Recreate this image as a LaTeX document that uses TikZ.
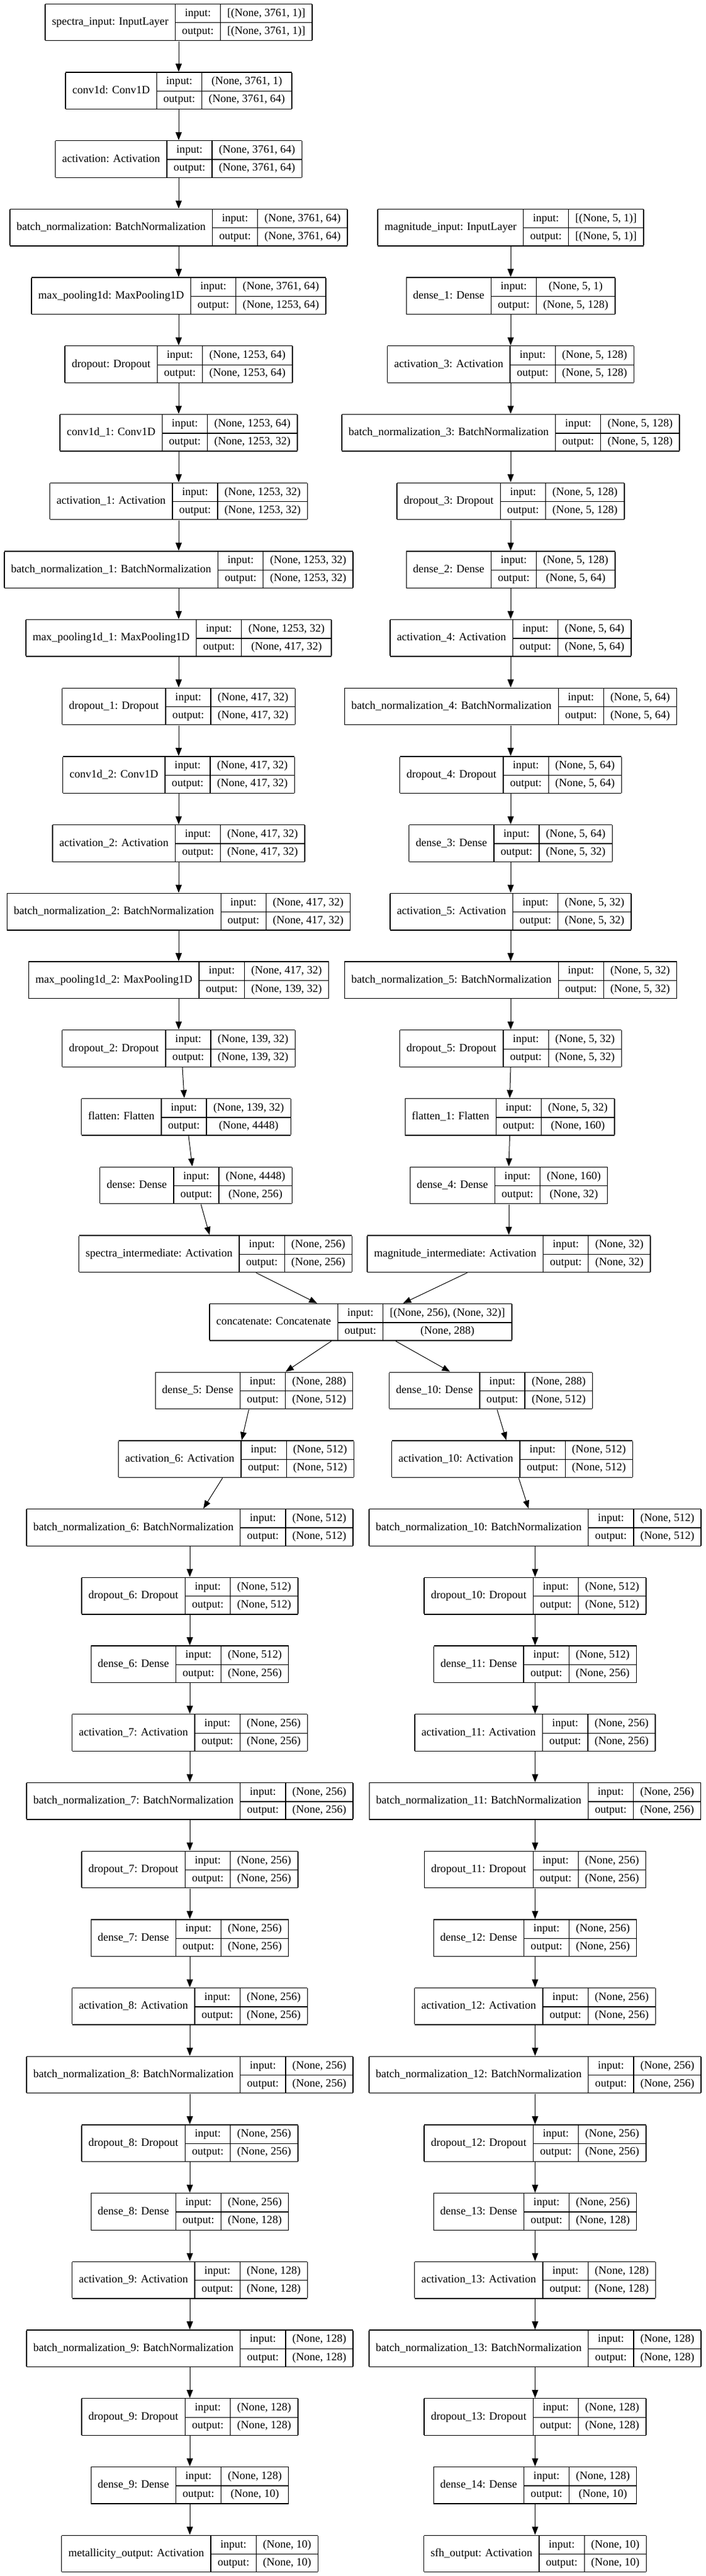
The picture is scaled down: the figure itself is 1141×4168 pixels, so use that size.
\documentclass[tikz,border=0pt]{standalone}
\usepackage{fontspec}
\setmainfont{Liberation Serif}
\usepackage{tikz}
\usetikzlibrary{arrows.meta, positioning}

\newcommand\layerfont{\fontsize{18.05pt}{21pt}\selectfont}
\setlength\tabcolsep{11pt}
\setlength\arrayrulewidth{1.3pt}
\newcommand\rowstrut{\rule[-9.9pt]{0pt}{29.1pt}}

% one record: id, x of centre, row, name, input shape, output shape
\newcommand\keraslayer[6]{%
  \node[record] (#1) at (#2, 36+110.7*#3) {%
    \begin{tabular}{|c|c|c|}\hline
      \raisebox{-14.55pt}[0pt][0pt]{#4} & input:\rowstrut & #5 \\ \cline{2-3}
      & output:\rowstrut & #6 \\ \hline
    \end{tabular}};}

\begin{document}
\begin{tikzpicture}[x=1pt, y=-1pt,
    record/.style={inner sep=0pt, font=\layerfont},
    flow/.style={-{Triangle[length=13pt, width=10pt]}, line width=1pt}]
\path[fill=white] (0,0) rectangle (1141,4168);

% spectra branch
\keraslayer{spec}{289}{0}{spectra\_input: InputLayer}{[(None, 3761, 1)]}{[(None, 3761, 1)]}
\keraslayer{conv}{289}{1}{conv1d: Conv1D}{(None, 3761, 1)}{(None, 3761, 64)}
\keraslayer{act}{289}{2}{activation: Activation}{(None, 3761, 64)}{(None, 3761, 64)}
\keraslayer{bn}{289}{3}{batch\_normalization: BatchNormalization}{(None, 3761, 64)}{(None, 3761, 64)}
\keraslayer{pool}{289}{4}{max\_pooling1d: MaxPooling1D}{(None, 3761, 64)}{(None, 1253, 64)}
\keraslayer{drop}{289}{5}{dropout: Dropout}{(None, 1253, 64)}{(None, 1253, 64)}
\keraslayer{conv1}{289}{6}{conv1d\_1: Conv1D}{(None, 1253, 64)}{(None, 1253, 32)}
\keraslayer{act1}{289}{7}{activation\_1: Activation}{(None, 1253, 32)}{(None, 1253, 32)}
\keraslayer{bn1}{289}{8}{batch\_normalization\_1: BatchNormalization}{(None, 1253, 32)}{(None, 1253, 32)}
\keraslayer{pool1}{289}{9}{max\_pooling1d\_1: MaxPooling1D}{(None, 1253, 32)}{(None, 417, 32)}
\keraslayer{drop1}{289}{10}{dropout\_1: Dropout}{(None, 417, 32)}{(None, 417, 32)}
\keraslayer{conv2}{289}{11}{conv1d\_2: Conv1D}{(None, 417, 32)}{(None, 417, 32)}
\keraslayer{act2}{289}{12}{activation\_2: Activation}{(None, 417, 32)}{(None, 417, 32)}
\keraslayer{bn2}{289}{13}{batch\_normalization\_2: BatchNormalization}{(None, 417, 32)}{(None, 417, 32)}
\keraslayer{pool2}{289}{14}{max\_pooling1d\_2: MaxPooling1D}{(None, 417, 32)}{(None, 139, 32)}
\keraslayer{drop2}{289}{15}{dropout\_2: Dropout}{(None, 139, 32)}{(None, 139, 32)}
\keraslayer{flat}{301}{16}{flatten: Flatten}{(None, 139, 32)}{(None, 4448)}
\keraslayer{dense}{317}{17}{dense: Dense}{(None, 4448)}{(None, 256)}
\keraslayer{specint}{348.5}{18}{spectra\_intermediate: Activation}{(None, 256)}{(None, 256)}

% magnitude branch
\keraslayer{mag}{826}{3}{magnitude\_input: InputLayer}{[(None, 5, 1)]}{[(None, 5, 1)]}
\keraslayer{dense1}{826}{4}{dense\_1: Dense}{(None, 5, 1)}{(None, 5, 128)}
\keraslayer{act3}{826}{5}{activation\_3: Activation}{(None, 5, 128)}{(None, 5, 128)}
\keraslayer{bn3}{826}{6}{batch\_normalization\_3: BatchNormalization}{(None, 5, 128)}{(None, 5, 128)}
\keraslayer{drop3}{826}{7}{dropout\_3: Dropout}{(None, 5, 128)}{(None, 5, 128)}
\keraslayer{dense2}{826}{8}{dense\_2: Dense}{(None, 5, 128)}{(None, 5, 64)}
\keraslayer{act4}{826}{9}{activation\_4: Activation}{(None, 5, 64)}{(None, 5, 64)}
\keraslayer{bn4}{826}{10}{batch\_normalization\_4: BatchNormalization}{(None, 5, 64)}{(None, 5, 64)}
\keraslayer{drop4}{826}{11}{dropout\_4: Dropout}{(None, 5, 64)}{(None, 5, 64)}
\keraslayer{dense3}{826}{12}{dense\_3: Dense}{(None, 5, 64)}{(None, 5, 32)}
\keraslayer{act5}{826}{13}{activation\_5: Activation}{(None, 5, 32)}{(None, 5, 32)}
\keraslayer{bn5}{826}{14}{batch\_normalization\_5: BatchNormalization}{(None, 5, 32)}{(None, 5, 32)}
\keraslayer{drop5}{826}{15}{dropout\_5: Dropout}{(None, 5, 32)}{(None, 5, 32)}
\keraslayer{flat1}{824.5}{16}{flatten\_1: Flatten}{(None, 5, 32)}{(None, 160)}
\keraslayer{dense4}{823}{17}{dense\_4: Dense}{(None, 160)}{(None, 32)}
\keraslayer{magint}{823}{18}{magnitude\_intermediate: Activation}{(None, 32)}{(None, 32)}

\keraslayer{concat}{583.5}{19}{concatenate: Concatenate}{[(None, 256), (None, 32)]}{(None, 288)}

% metallicity head
\keraslayer{dense5}{411}{20}{dense\_5: Dense}{(None, 288)}{(None, 512)}
\keraslayer{act6}{382}{21}{activation\_6: Activation}{(None, 512)}{(None, 512)}
\keraslayer{bn6}{307}{22}{batch\_normalization\_6: BatchNormalization}{(None, 512)}{(None, 512)}
\keraslayer{drop6}{307}{23}{dropout\_6: Dropout}{(None, 512)}{(None, 512)}
\keraslayer{dense6}{307}{24}{dense\_6: Dense}{(None, 512)}{(None, 256)}
\keraslayer{act7}{307}{25}{activation\_7: Activation}{(None, 256)}{(None, 256)}
\keraslayer{bn7}{307}{26}{batch\_normalization\_7: BatchNormalization}{(None, 256)}{(None, 256)}
\keraslayer{drop7}{307}{27}{dropout\_7: Dropout}{(None, 256)}{(None, 256)}
\keraslayer{dense7}{307}{28}{dense\_7: Dense}{(None, 256)}{(None, 256)}
\keraslayer{act8}{307}{29}{activation\_8: Activation}{(None, 256)}{(None, 256)}
\keraslayer{bn8}{307}{30}{batch\_normalization\_8: BatchNormalization}{(None, 256)}{(None, 256)}
\keraslayer{drop8}{307}{31}{dropout\_8: Dropout}{(None, 256)}{(None, 256)}
\keraslayer{dense8}{307}{32}{dense\_8: Dense}{(None, 256)}{(None, 128)}
\keraslayer{act9}{307}{33}{activation\_9: Activation}{(None, 128)}{(None, 128)}
\keraslayer{bn9}{307}{34}{batch\_normalization\_9: BatchNormalization}{(None, 128)}{(None, 128)}
\keraslayer{drop9}{307}{35}{dropout\_9: Dropout}{(None, 128)}{(None, 128)}
\keraslayer{dense9}{307}{36}{dense\_9: Dense}{(None, 128)}{(None, 10)}
\keraslayer{metal}{307}{37}{metallicity\_output: Activation}{(None, 10)}{(None, 10)}

% sfh head
\keraslayer{dense10}{794}{20}{dense\_10: Dense}{(None, 288)}{(None, 512)}
\keraslayer{act10}{828.5}{21}{activation\_10: Activation}{(None, 512)}{(None, 512)}
\keraslayer{bn10}{865.5}{22}{batch\_normalization\_10: BatchNormalization}{(None, 512)}{(None, 512)}
\keraslayer{drop10}{865.5}{23}{dropout\_10: Dropout}{(None, 512)}{(None, 512)}
\keraslayer{dense11}{865.5}{24}{dense\_11: Dense}{(None, 512)}{(None, 256)}
\keraslayer{act11}{865.5}{25}{activation\_11: Activation}{(None, 256)}{(None, 256)}
\keraslayer{bn11}{865.5}{26}{batch\_normalization\_11: BatchNormalization}{(None, 256)}{(None, 256)}
\keraslayer{drop11}{865.5}{27}{dropout\_11: Dropout}{(None, 256)}{(None, 256)}
\keraslayer{dense12}{865.5}{28}{dense\_12: Dense}{(None, 256)}{(None, 256)}
\keraslayer{act12}{865.5}{29}{activation\_12: Activation}{(None, 256)}{(None, 256)}
\keraslayer{bn12}{865.5}{30}{batch\_normalization\_12: BatchNormalization}{(None, 256)}{(None, 256)}
\keraslayer{drop12}{865.5}{31}{dropout\_12: Dropout}{(None, 256)}{(None, 256)}
\keraslayer{dense13}{865.5}{32}{dense\_13: Dense}{(None, 256)}{(None, 128)}
\keraslayer{act13}{865.5}{33}{activation\_13: Activation}{(None, 128)}{(None, 128)}
\keraslayer{bn13}{865.5}{34}{batch\_normalization\_13: BatchNormalization}{(None, 128)}{(None, 128)}
\keraslayer{drop13}{865.5}{35}{dropout\_13: Dropout}{(None, 128)}{(None, 128)}
\keraslayer{dense14}{865.5}{36}{dense\_14: Dense}{(None, 128)}{(None, 10)}
\keraslayer{sfh}{865.5}{37}{sfh\_output: Activation}{(None, 10)}{(None, 10)}

\foreach \a/\b in {spec/conv, conv/act, act/bn, bn/pool, pool/drop, drop/conv1,
    conv1/act1, act1/bn1, bn1/pool1, pool1/drop1, drop1/conv2, conv2/act2,
    act2/bn2, bn2/pool2, pool2/drop2,
    mag/dense1, dense1/act3, act3/bn3, bn3/drop3, drop3/dense2, dense2/act4,
    act4/bn4, bn4/drop4, drop4/dense3, dense3/act5, act5/bn5, bn5/drop5,
    drop5/flat1, flat1/dense4, dense4/magint,
    bn6/drop6, drop6/dense6, dense6/act7, act7/bn7, bn7/drop7, drop7/dense7,
    dense7/act8, act8/bn8, bn8/drop8, drop8/dense8, dense8/act9, act9/bn9,
    bn9/drop9, drop9/dense9, dense9/metal,
    bn10/drop10, drop10/dense11, dense11/act11, act11/bn11, bn11/drop11,
    drop11/dense12, dense12/act12, act12/bn12, bn12/drop12, drop12/dense13,
    dense13/act13, act13/bn13, bn13/drop13, drop13/dense14, dense14/sfh}
  \draw[flow] (\a.south) -- (\b.north);

\draw[flow] ([xshift=6pt]drop2.south) -- ([xshift=-3pt]flat.north);
\draw[flow] ([xshift=4pt]flat.south) -- ([xshift=-6pt]dense.north);
\draw[flow] ([xshift=8pt]dense.south) -- ([xshift=-9.5pt]specint.north);
\draw[flow] ([xshift=65.5pt]specint.south) -- ([xshift=-70.5pt]concat.north);
\draw[flow] ([xshift=-67pt]magint.south) -- ([xshift=68.5pt]concat.north);
\draw[flow] ([xshift=-47.5pt]concat.south) -- ([xshift=51pt]dense5.north);
\draw[flow] ([xshift=56.5pt]concat.south) -- ([xshift=-66pt]dense10.north);
\draw[flow] ([xshift=-8.5pt]dense5.south) -- ([xshift=9pt]act6.north);
\draw[flow] ([xshift=-22pt]act6.south) -- ([xshift=22pt]bn6.north);
\draw[flow] ([xshift=10pt]dense10.south) -- ([xshift=-9.5pt]act10.north);
\draw[flow] ([xshift=10.5pt]act10.south) -- ([xshift=-10.5pt]bn10.north);
\end{tikzpicture}
\end{document}
